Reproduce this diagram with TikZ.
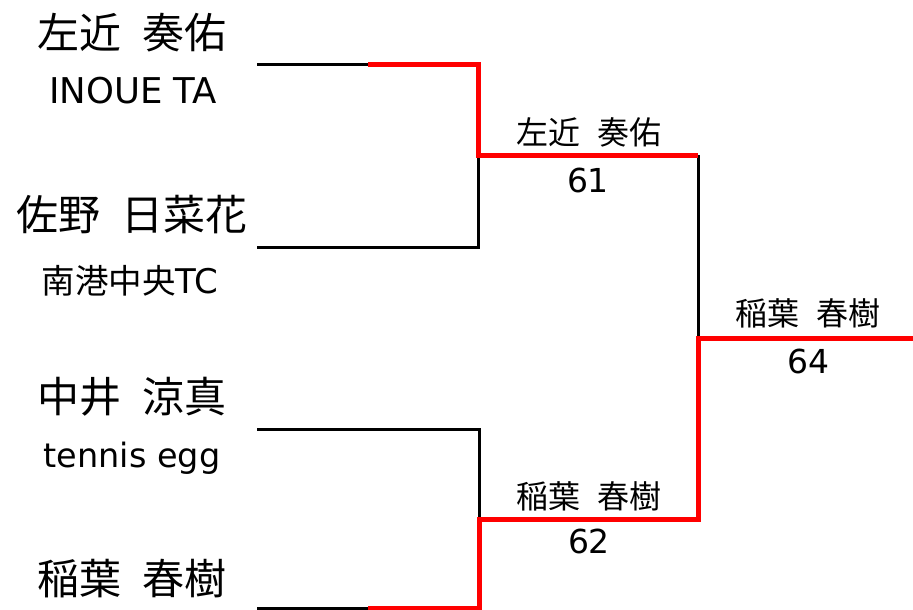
\documentclass[tikz,border=0pt]{standalone}
\usepackage{fontspec}
\setmainfont{DejaVu Sans}
\newfontfamily\cjk[WordSpace=2.3]{Noto Sans CJK JP}
\begin{document}
\begin{tikzpicture}[x=1pt,y=-1pt,
  lose/.style={draw=black,line width=3pt,line join=miter},
  win/.style={draw=red,line width=5pt,line join=miter},
  bigname/.style={inner sep=0pt,anchor=center,font=\cjk\fontsize{42}{42}\selectfont},
  club/.style={inner sep=0pt,anchor=base,font=\fontsize{35.5}{35.5}\selectfont},
  mname/.style={inner sep=0pt,anchor=center,font=\cjk\fontsize{32}{32}\selectfont},
  score/.style={inner sep=0pt,anchor=base,font=\fontsize{33}{33}\selectfont}]
\useasboundingbox (0,0) rectangle (913,610);
% players
\node[bigname] (p1) at (132,33) {左近 奏佑};
\node[club] (c1) at (133,103) {INOUE TA};
\node[bigname] (p2) at (132,215) {佐野 日菜花};
\node[club,font=\fontsize{34}{34}\selectfont] (c2) at (130,293) {{\cjk\fontsize{33.5}{33.5}\selectfont 南港中央}TC};
\node[bigname] (p3) at (132,397) {中井 涼真};
\node[club,font=\fontsize{33.5}{33.5}\selectfont] (c3) at (132,467) {tennis egg};
\node[bigname] (p4) at (132,579) {稲葉 春樹};
% match labels
\node[mname] (m1) at (589,132) {左近 奏佑};
\node[score] (s1) at (588,192) {61};
\node[mname] (m2) at (589,496) {稲葉 春樹};
\node[score] (s2) at (589,553) {62};
\node[mname] (m3) at (808,313) {稲葉 春樹};
\node[score] (s3) at (808,373) {64};
% bracket points
\coordinate (a1) at (257,65);
\coordinate (h1) at (368,65);
\coordinate (k1) at (478,65);
\coordinate (j1) at (478,155);
\coordinate (e1) at (698,155);
\coordinate (k2) at (478,247);
\coordinate (a2) at (257,247);
\coordinate (a3) at (257,429);
\coordinate (k3) at (479,429);
\coordinate (j2) at (479,519);
\coordinate (e2) at (698,519);
\coordinate (f) at (698,338);
\coordinate (w) at (913,338);
\coordinate (k4) at (479,608);
\coordinate (h4) at (368,608);
\coordinate (a4) at (257,608);
% losers
\draw[lose] (a1) -- (h1);
\draw[lose] (j1) -- (k2) -- (a2);
\draw[lose] (a3) -- (k3) -- (j2);
\draw[lose] (e1) -- (f);
\draw[lose] (a4) -- (h4);
% winners
\draw[win] (h1) -- (k1) -- (j1) -- (e1);
\draw[win] (h4) -- (k4) -- (j2) -- (e2) -- (f) -- (w);
\end{tikzpicture}
\end{document}
